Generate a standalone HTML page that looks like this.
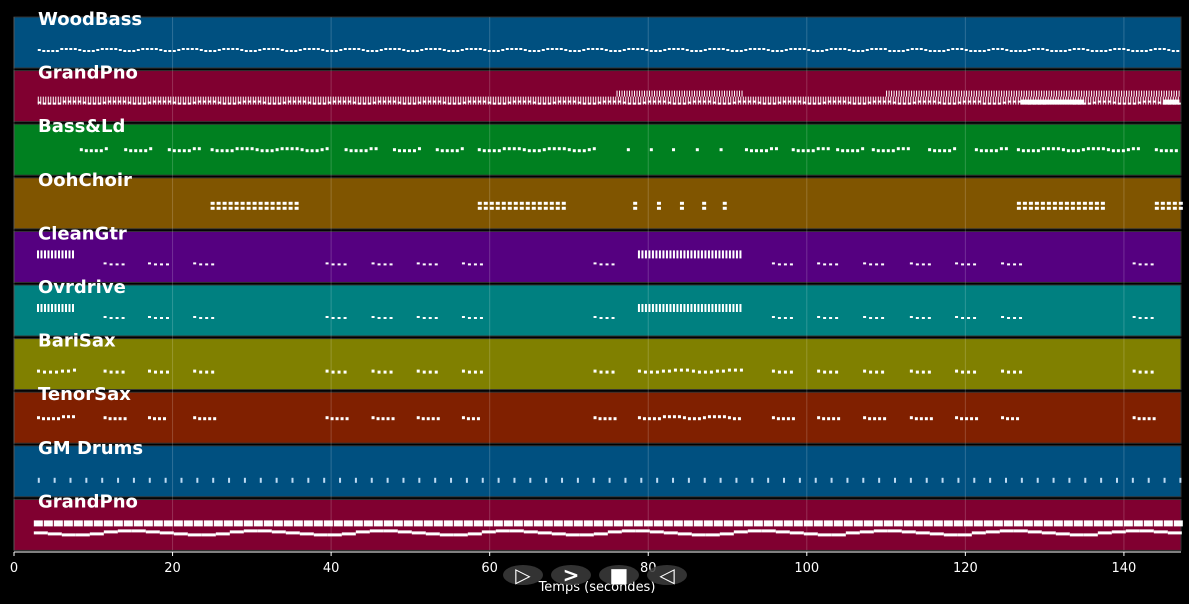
<!DOCTYPE html>
<html><head><meta charset="utf-8"><style>
html,body{margin:0;padding:0;background:#000;}
svg{display:block;font-family:"DejaVu Sans","Liberation Sans",sans-serif;}
</style></head><body>
<svg id="c" width="1189" height="604" viewBox="0 0 1189 604"></svg>
<script>
const trackNames=["WoodBass","GrandPno","Bass&Ld","OohChoir","CleanGtr","Ovrdrive","BariSax","TenorSax","GM Drums","GrandPno"];
const trackColors=["#005080","#800030","#008020","#805500","#550080","#008080","#808000","#802000","#005080","#800030"];
const xTicks=[0,20,40,60,80,100,120,140];
const gtrPhrases=[[2.9,7.6],[11.3,14],[16.9,19.4],[22.6,25.3],[39.3,42],[45.1,47.9],[50.8,53.5],[56.5,59],[73.1,75.8],[78.7,91.9],[95.6,98.4],[101.3,104],[107.1,109.7],[113,115.6],[118.7,121.4],[124.5,127],[141.1,143.9]];
const bassLdPhrases=[[8.3,11.9],[13.9,17.4],[19.4,23.2],[24.8,39.8],[41.7,45.5],[47.8,51.2],[53.2,56.6],[58.5,73.6],[77.3,77.6],[80.2,80.5],[83,83.3],[86,86.3],[89,89.3],[92.2,96.1],[98.1,102.9],[103.7,107.4],[108.2,113],[115.3,118.7],[121.2,125],[126.5,142],[143.9,147]];
const choirPhrases=[[24.8,35.6],[58.5,69.4],[78.1,78.4],[81.1,81.4],[84,84.3],[86.8,87.1],[89.4,89.7],[126.5,137.3],[143.9,147]];
const drumHits=[3,5,7,9,11,13,15,17,19,21,23,25,27,29,31,33,35,37,39,41,43,45,47,49,51,53,55,57,59,61,63,65,67,69,71,73,75,77,79,81,83,85,87,89,91,93,95,97,99,101,103,105,107,109,111,113,115,117,119,121,123,125,127,129,131,133,135,137,139,141,143,145,147];
const pnoUpper=[[76,92],[110,147]];
const pnoBlock=[[127,135],[145,147]];
const xMax=147.2;
const X0=14,X1=1181;
function sx(t){return X0+(X1-X0)*t/xMax;}
const svg=document.getElementById('c');
const NS="http://www.w3.org/2000/svg";
function mk(tag,attrs,parent){const e=document.createElementNS(NS,tag);for(const k in attrs)e.setAttribute(k,attrs[k]);(parent||svg).appendChild(e);return e;}
const TOP=17,STEP=53.6,H=51;
function ty(i){return TOP+i*STEP;}
trackNames.forEach((n,i)=>{
  const r=mk('rect',{x:X0,y:ty(i),width:X1-X0,height:H,fill:trackColors[i],stroke:'#333','stroke-width':1});
  
  
});
xTicks.forEach(t=>{
  const l=mk('line',{x1:sx(t),x2:sx(t),y1:TOP,y2:ty(9)+H,stroke:'rgba(255,255,255,0.18)','stroke-width':1});
  
  
});
const notesG=mk('g',{fill:'#fff'});


function dashes(t0,t1,y,w,gap,h,wave){
  for(let x=sx(t0),k=0;x<=sx(t1);x+=w+gap,k++){
    const dy=wave?Math.round(Math.sin(k*0.7)*wave):0;
    const r=mk('rect',{x:x,y:y+dy,width:w,height:h},notesG);
    
    
  }
}
dashes(3,147,ty(0)+32,3,1.5,2,1.5);
dashes(3,147,ty(1)+26,1,1.5,8,0);
dashes(3,147,ty(1)+31,3,2,2,1.5);
pnoUpper.forEach(p=>dashes(p[0],p[1],ty(1)+20,1,1.5,6,0));
pnoBlock.forEach(p=>{const r=mk('rect',{x:sx(p[0]),y:ty(1)+29,width:sx(p[1])-sx(p[0]),height:5},notesG);});
bassLdPhrases.forEach(p=>dashes(p[0],p[1],ty(2)+24,3,2,3,1.5));
choirPhrases.forEach(p=>{dashes(p[0],p[1],ty(3)+24,4,2,3,0);dashes(p[0],p[1],ty(3)+29,4,2,3,0);});
[4,5].forEach(i=>gtrPhrases.forEach((p,j)=>{
  if(j===0||j===9){dashes(p[0],p[1],ty(i)+19,2,1.5,8,0);}
  else dashes(p[0],p[1],ty(i)+31,3,3,2,1.5);
}));
gtrPhrases.forEach(p=>dashes(p[0],p[1],ty(6)+31,3,3,3,1));
gtrPhrases.forEach(p=>dashes(p[0],p[1],ty(7)+24,3,2,3,1.5));
drumHits.forEach(t=>{const r=mk('rect',{x:sx(t),y:ty(8)+32,width:2,height:5,fill:'#bfdcf5'},notesG);});
dashes(2.5,147,ty(9)+21,9,1,6,0);
dashes(2.5,147,ty(9)+32,14,0,3,2);
trackNames.forEach((n,i)=>{
  const t=mk('text',{x:38,y:ty(i)+8,fill:'#fff','font-size':18,'font-weight':'bold'});
  t.textContent=n;
  
  
});
const ax=mk('line',{x1:X0,x2:X1,y1:552,y2:552,stroke:'#fff','stroke-width':1});


xTicks.forEach(t=>{
  const l=mk('line',{x1:sx(t),x2:sx(t),y1:552,y2:556,stroke:'#fff'});
  
  
  const tx=mk('text',{x:sx(t),y:572,fill:'#fff','font-size':13,'text-anchor':'middle'});
  tx.textContent=t;
  
  
});
const xl=mk('text',{x:597,y:591,fill:'#fff','font-size':13,'text-anchor':'middle'});
xl.textContent='Temps (secondes)';


const btns=[[523,'▷','play-button'],[571,'>','next-button'],[619,'■','stop-button'],[667,'◁','back-button']];
btns.forEach(b=>{
  const g=mk('g',{});
  
  
  mk('ellipse',{cx:b[0],cy:575,rx:20,ry:10,fill:'rgba(60,60,60,0.85)'},g);
  const t=mk('text',{x:b[0],y:582,fill:'#fff','font-size':20,'font-weight':'bold','text-anchor':'middle'},g);
  t.textContent=b[1];
});
</script>
</body></html>
